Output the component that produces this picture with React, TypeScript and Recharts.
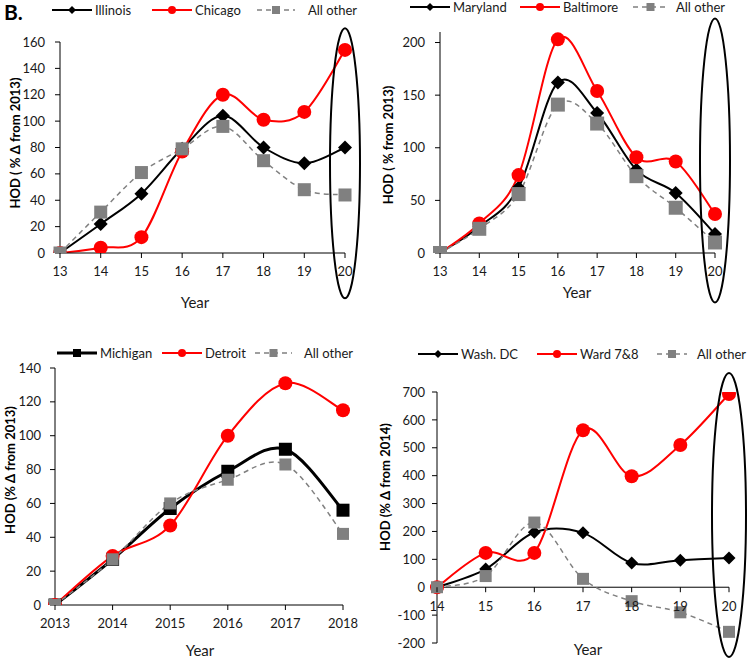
import React from "react";
import { LineChart, Line, XAxis, YAxis, ReferenceDot, ReferenceLine } from "recharts";

// ---- data ----
const yearsTop = ["13", "14", "15", "16", "17", "18", "19", "20"];
const illinois = [0, 22, 45, 79, 104, 80, 68, 80];
const chicago = [0, 4, 12, 77, 120, 101, 107, 154];
const illinoisOther = [0, 31, 61, 79, 96, 70, 48, 44];

const maryland = [0, 25, 62, 162, 133, 79, 57, 18];
const baltimore = [0, 28, 74, 203, 154, 91, 87, 37];
const marylandOther = [0, 23, 56, 141, 123, 73, 43, 10];

const yearsMichigan = ["2013", "2014", "2015", "2016", "2017", "2018"];
const michigan = [0, 27, 57, 79, 92, 56];
const detroit = [0, 29, 47, 100, 131, 115];
const michiganOther = [0, 27, 60, 74, 83, 42];

const yearsDC = ["14", "15", "16", "17", "18", "19", "20"];
const washDC = [0, 65, 197, 195, 87, 97, 105];
const ward78 = [0, 123, 123, 563, 398, 510, 693];
const dcOther = [0, 40, 232, 30, -50, -90, -160];

const ticksIllinois = [0, 20, 40, 60, 80, 100, 120, 140, 160];
const ticksMaryland = [0, 50, 100, 150, 200];
const ticksMichigan = [0, 20, 40, 60, 80, 100, 120, 140];
const ticksDC = [-200, -100, 0, 100, 200, 300, 400, 500, 600, 700];

const FONT = "Lato, 'Open Sans', sans-serif";
const RED = "#ff0000";
const GRAY = "#808080";
const TEXT = "#1a1a1a";

// Excel-like smoothed line (Catmull-Rom through the points)
const smoothCurve = (context: any) => {
  let pts: number[][] = [];
  return {
    areaStart() {},
    areaEnd() {},
    lineStart() {
      pts = [];
    },
    point(x: number, y: number) {
      pts.push([+x, +y]);
    },
    lineEnd() {
      if (!pts.length) return;
      context.moveTo(pts[0][0], pts[0][1]);
      for (let i = 0; i < pts.length - 1; i++) {
        const p0 = pts[i - 1] || pts[i];
        const p1 = pts[i];
        const p2 = pts[i + 1];
        const p3 = pts[i + 2] || p2;
        context.bezierCurveTo(
          p1[0] + (p2[0] - p0[0]) / 6,
          p1[1] + (p2[1] - p0[1]) / 6,
          p2[0] - (p3[0] - p1[0]) / 6,
          p2[1] - (p3[1] - p1[1]) / 6,
          p2[0],
          p2[1]
        );
      }
    },
  };
};

type Shape = "diamond" | "circle" | "square";

function Marker({ shape, color, size, cx, cy }: any) {
  if (shape === "circle") return <circle cx={cx} cy={cy} r={size} fill={color} />;
  if (shape === "square")
    return <rect x={cx - size} y={cy - size} width={size * 2} height={size * 2} fill={color} />;
  return (
    <polygon
      points={`${cx},${cy - size} ${cx + size},${cy} ${cx},${cy + size} ${cx - size},${cy}`}
      fill={color}
    />
  );
}

interface Series {
  key: string;
  name: string;
  values: number[];
  color: string;
  width: number;
  dash?: string;
  shape: Shape;
  size: number;
}

interface PanelProps {
  left: number;
  top: number;
  width: number;
  height: number;
  margin: { top: number; right: number; bottom: number; left: number };
  yWidth: number;
  xHeight: number;
  years: string[];
  series: Series[];
  domain: [number, number];
  ticks: number[];
  yTickMargin: number;
  xAtZero?: boolean;
  ellipse?: { at: string; value: number; rx: number; ry: number };
  yLabel: string;
  yLabelPos: [number, number];
  yearPos: [number, number];
  legendY: number;
  legendX: number[];
  dashLegend: [number, number]; // length of dashed sample, gap before text
}

function Panel(p: PanelProps) {
  const rows = p.years.map((year, i) => {
    const row: any = { year };
    p.series.forEach((s) => (row[s.key] = s.values[i]));
    return row;
  });
  const plotH = p.height - p.margin.top - p.margin.bottom - p.xHeight;
  const zeroY = p.margin.top + ((p.domain[1] - 0) / (p.domain[1] - p.domain[0])) * plotH;

  const zeroTick = ({ x, payload }: any) => (
    <g>
      <line x1={x} x2={x} y1={zeroY} y2={zeroY + 5} stroke="#000" />
      <text x={x} y={zeroY + 19} dy="0.35em" textAnchor="middle" fontSize={13} fill={TEXT} fontFamily={FONT}>
        {payload.value}
      </text>
    </g>
  );

  return (
    <div style={{ position: "absolute", left: p.left, top: p.top, width: p.width, height: p.height }}>
      <LineChart width={p.width} height={p.height} data={rows} margin={p.margin}>
        <XAxis
          dataKey="year"
          height={p.xHeight}
          axisLine={p.xAtZero ? false : { stroke: "#000" }}
          tickLine={p.xAtZero ? false : { stroke: "#000" }}
          tickSize={5}
          tickMargin={9}
          interval={0}
          tick={p.xAtZero ? zeroTick : { fontSize: 13, fill: TEXT, fontFamily: FONT }}
        />
        <YAxis
          width={p.yWidth}
          domain={p.domain}
          ticks={p.ticks}
          interval={0}
          allowDataOverflow
          axisLine={{ stroke: "#000" }}
          tickLine={{ stroke: "#000" }}
          tickSize={5}
          tickMargin={p.yTickMargin}
          tick={{ fontSize: 13, fill: TEXT, fontFamily: FONT }}
        />
        {p.xAtZero && <ReferenceLine y={0} stroke="#000" strokeWidth={1} />}
        {p.series.map((s) => (
          <Line
            key={s.key}
            dataKey={s.key}
            name={s.name}
            type={smoothCurve as any}
            stroke={s.color}
            strokeWidth={s.width}
            strokeDasharray={s.dash}
            isAnimationActive={false}
            activeDot={false}
            dot={(d: any) => (
              <Marker key={`${s.key}-${d.index}`} shape={s.shape} color={s.color} size={s.size} cx={d.cx} cy={d.cy} />
            )}
          />
        ))}
        {p.ellipse && (
          <ReferenceDot
            x={p.ellipse.at}
            y={p.ellipse.value}
            ifOverflow="visible"
            shape={(d: any) => (
              <ellipse
                cx={d.cx}
                cy={d.cy}
                rx={p.ellipse!.rx}
                ry={p.ellipse!.ry}
                fill="none"
                stroke="#000"
                strokeWidth={2}
              />
            )}
          />
        )}
      </LineChart>

      {/* y axis title */}
      <div
        style={{
          position: "absolute",
          left: p.yLabelPos[0] - 110,
          top: p.yLabelPos[1] - 9,
          width: 220,
          height: 18,
          lineHeight: "18px",
          textAlign: "center",
          transform: "rotate(-90deg)",
          fontWeight: 700,
          fontSize: 13,
          whiteSpace: "nowrap",
          color: "#000",
        }}
      >
        {p.yLabel}
      </div>

      {/* x axis title */}
      <div
        style={{
          position: "absolute",
          left: p.yearPos[0] - 50,
          top: p.yearPos[1] - 10,
          width: 100,
          height: 20,
          lineHeight: "20px",
          textAlign: "center",
          fontSize: 15,
          color: TEXT,
        }}
      >
        Year
      </div>

      {/* legend */}
      {p.series.map((s, i) => {
        const len = s.dash ? p.dashLegend[0] : 40;
        return (
          <div
            key={s.key}
            style={{
              position: "absolute",
              left: p.legendX[i],
              top: p.legendY - 9,
              height: 18,
              display: "flex",
              alignItems: "center",
              whiteSpace: "nowrap",
              fontSize: 13,
              color: TEXT,
            }}
          >
            <svg width={len} height={18}>
              <line x1={0} x2={len} y1={9} y2={9} stroke={s.color} strokeWidth={s.width} strokeDasharray={s.dash} />
              <Marker shape={s.shape} color={s.color} size={4} cx={len / 2} cy={9} />
            </svg>
            <span style={{ marginLeft: s.dash ? p.dashLegend[1] : 3 }}>{s.name}</span>
          </div>
        );
      })}
    </div>
  );
}

export default function App() {
  return (
    <div
      style={{
        position: "absolute",
        left: 0,
        top: 0,
        width: 749,
        height: 660,
        background: "#fff",
        fontFamily: FONT,
        overflow: "hidden",
      }}
    >
      <Panel
        left={0}
        top={0}
        width={375}
        height={320}
        margin={{ top: 42, right: 30, bottom: 37, left: 15 }}
        yWidth={45}
        xHeight={30}
        years={yearsTop}
        series={[
          { key: "il", name: "Illinois", values: illinois, color: "#000", width: 2, shape: "diamond", size: 7 },
          { key: "chi", name: "Chicago", values: chicago, color: RED, width: 2, shape: "circle", size: 7 },
          { key: "oth", name: "All other", values: illinoisOther, color: GRAY, width: 1.5, dash: "5 4", shape: "square", size: 6.5 },
        ]}
        domain={[0, 160]}
        ticks={ticksIllinois}
        yTickMargin={10}
        ellipse={{ at: "20", value: 68, rx: 15, ry: 135 }}
        yLabel="HOD ( % Δ from 2013)"
        yLabelPos={[15, 143]}
        yearPos={[195, 302]}
        legendY={10}
        legendX={[52, 152, 257]}
        dashLegend={[38, 13]}
      />
      <div
        style={{
          position: "absolute",
          left: 4,
          top: 0,
          fontSize: 21,
          fontWeight: 700,
          lineHeight: "24px",
          color: "#000",
        }}
      >
        B.
      </div>

      <Panel
        left={375}
        top={0}
        width={374}
        height={320}
        margin={{ top: 32, right: 34, bottom: 37, left: 20 }}
        yWidth={45}
        xHeight={30}
        years={yearsTop}
        series={[
          { key: "md", name: "Maryland", values: maryland, color: "#000", width: 2, shape: "diamond", size: 7 },
          { key: "bal", name: "Baltimore", values: baltimore, color: RED, width: 2, shape: "circle", size: 7 },
          { key: "oth", name: "All other", values: marylandOther, color: GRAY, width: 1.5, dash: "5 4", shape: "square", size: 7 },
        ]}
        domain={[0, 210]}
        ticks={ticksMaryland}
        yTickMargin={10}
        ellipse={{ at: "20", value: 88, rx: 15, ry: 142 }}
        yLabel="HOD ( % from 2013)"
        yLabelPos={[13, 145]}
        yearPos={[202, 292]}
        legendY={7}
        legendX={[35, 145, 258]}
        dashLegend={[35, 8]}
      />

      <Panel
        left={0}
        top={320}
        width={375}
        height={340}
        margin={{ top: 48, right: 32, bottom: 25, left: 15 }}
        yWidth={40}
        xHeight={30}
        years={yearsMichigan}
        series={[
          { key: "mi", name: "Michigan", values: michigan, color: "#000", width: 3, shape: "square", size: 6.5 },
          { key: "det", name: "Detroit", values: detroit, color: RED, width: 2, shape: "circle", size: 7 },
          { key: "oth", name: "All other", values: michiganOther, color: GRAY, width: 1.5, dash: "5 4", shape: "square", size: 6 },
        ]}
        domain={[0, 140]}
        ticks={ticksMichigan}
        yTickMargin={9}
        yLabel="HOD (% Δ  from 2013)"
        yLabelPos={[10, 150]}
        yearPos={[200, 330]}
        legendY={33}
        legendX={[57, 162, 255]}
        dashLegend={[37, 12]}
      />

      <Panel
        left={375}
        top={320}
        width={374}
        height={340}
        margin={{ top: 72, right: 20, bottom: 7, left: 17 }}
        yWidth={45}
        xHeight={10}
        years={yearsDC}
        series={[
          { key: "dc", name: "Wash. DC", values: washDC, color: "#000", width: 2, shape: "diamond", size: 6.5 },
          { key: "ward", name: "Ward 7&8", values: ward78, color: RED, width: 2, shape: "circle", size: 7 },
          { key: "oth", name: "All other", values: dcOther, color: GRAY, width: 1.5, dash: "5 4", shape: "square", size: 6 },
        ]}
        domain={[-200, 700]}
        ticks={ticksDC}
        yTickMargin={7}
        xAtZero
        ellipse={{ at: "20", value: 259, rx: 17, ry: 142 }}
        yLabel="HOD (% Δ  from 2014)"
        yLabelPos={[10, 167]}
        yearPos={[213, 329]}
        legendY={34}
        legendX={[43, 162, 282]}
        dashLegend={[30, 10]}
      />
    </div>
  );
}
